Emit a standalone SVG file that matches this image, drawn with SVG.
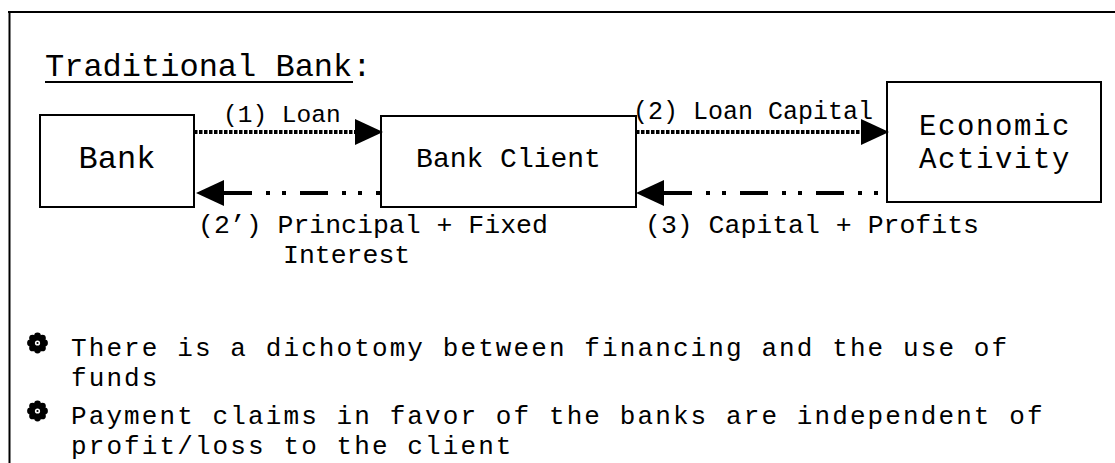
<svg xmlns="http://www.w3.org/2000/svg" xmlns:xlink="http://www.w3.org/1999/xlink" width="1115" height="463" viewBox="0 0 1115 463">
  <style>
    .t { font-family: "Liberation Mono", "Courier New", monospace; fill: #000; }
    .b { font-size: 26px; letter-spacing: 2.1px; }
    .box { fill: #fff; stroke: #000; stroke-width: 2; }
    .frame { stroke: #000; stroke-width: 2; fill: none; }
    .dotted { stroke: #000; stroke-width: 4; fill: none; stroke-dasharray: 3.5 1.5; }
    .dashdot { stroke: #000; stroke-width: 4; fill: none; stroke-dasharray: 28 14 4 12 4 14; }
  </style>
  <defs>
    <marker id="head" markerUnits="userSpaceOnUse" markerWidth="28" markerHeight="26" viewBox="0 0 26 24" refX="0" refY="12" orient="auto-start-reverse">
      <path d="M0,0 L26,12 L0,24 Z" fill="#000"/>
    </marker>
    <g id="bullet">
      <circle cx="0" cy="0" r="7.5" fill="#000"/>
      <circle cx="7" cy="0" r="3.4" fill="#000"/>
      <circle cx="-7" cy="0" r="3.4" fill="#000"/>
      <circle cx="0" cy="7" r="3.4" fill="#000"/>
      <circle cx="0" cy="-7" r="3.4" fill="#000"/>
      <circle cx="4.95" cy="4.95" r="3.4" fill="#000"/>
      <circle cx="-4.95" cy="4.95" r="3.4" fill="#000"/>
      <circle cx="4.95" cy="-4.95" r="3.4" fill="#000"/>
      <circle cx="-4.95" cy="-4.95" r="3.4" fill="#000"/>
      <circle cx="0" cy="0" r="2.6" fill="#fff"/>
      <circle cx="0" cy="0" r="1.1" fill="#000"/>
    </g>
  </defs>

  <rect width="1115" height="463" fill="#fff"/>

  <!-- frame -->
  <path class="frame" d="M8,12 H1115 M9.5,12 V463"/>

  <!-- title -->
  <g id="title">
    <text class="t" x="45" y="76" font-size="32">Traditional Bank:</text>
    <line x1="45" y1="82" x2="353" y2="82" stroke="#000" stroke-width="2"/>
  </g>

  <!-- nodes -->
  <g id="node-bank">
    <rect class="box" x="40" y="115" width="154" height="92"/>
    <text class="t" x="117" y="168" font-size="32" text-anchor="middle">Bank</text>
  </g>
  <g id="node-client">
    <rect class="box" x="381" y="116" width="255" height="91"/>
    <text class="t" x="508.5" y="167" font-size="28" text-anchor="middle">Bank Client</text>
  </g>
  <g id="node-economic">
    <rect class="box" x="887" y="82" width="214" height="120"/>
    <text class="t" x="995" y="135" font-size="29" letter-spacing="1.6" text-anchor="middle">Economic</text>
    <text class="t" x="995" y="168" font-size="29" letter-spacing="1.6" text-anchor="middle">Activity</text>
  </g>

  <!-- connectors -->
  <g id="connectors">
    <path class="dotted" d="M194,132 H355" marker-end="url(#head)"/>
    <path class="dotted" d="M636,132 H861" marker-end="url(#head)"/>
    <path class="dashdot" d="M224,193 H381" marker-start="url(#head)"/>
    <path class="dashdot" d="M664,193 H887" marker-start="url(#head)"/>
    <text class="t" x="223" y="122" font-size="24.5">(1) Loan</text>
    <text class="t" x="633" y="119" font-size="25">(2) Loan Capital</text>
    <text class="t" x="198" y="233" font-size="26.5">(2’) Principal + Fixed</text>
    <text class="t" x="283" y="263" font-size="26.5">Interest</text>
    <text class="t" x="645" y="233" font-size="26.5">(3) Capital + Profits</text>
  </g>

  <!-- bullets -->
  <g id="bullet-1">
    <use xlink:href="#bullet" href="#bullet" x="37.5" y="343"/>
    <text class="t b" x="71" y="356">There is a dichotomy between financing and the use of</text>
    <text class="t b" x="71" y="386">funds</text>
  </g>
  <g id="bullet-2">
    <use xlink:href="#bullet" href="#bullet" x="37.5" y="411"/>
    <text class="t b" x="71" y="424">Payment claims in favor of the banks are independent of</text>
    <text class="t b" x="71" y="454">profit/loss to the client</text>
  </g>
</svg>
